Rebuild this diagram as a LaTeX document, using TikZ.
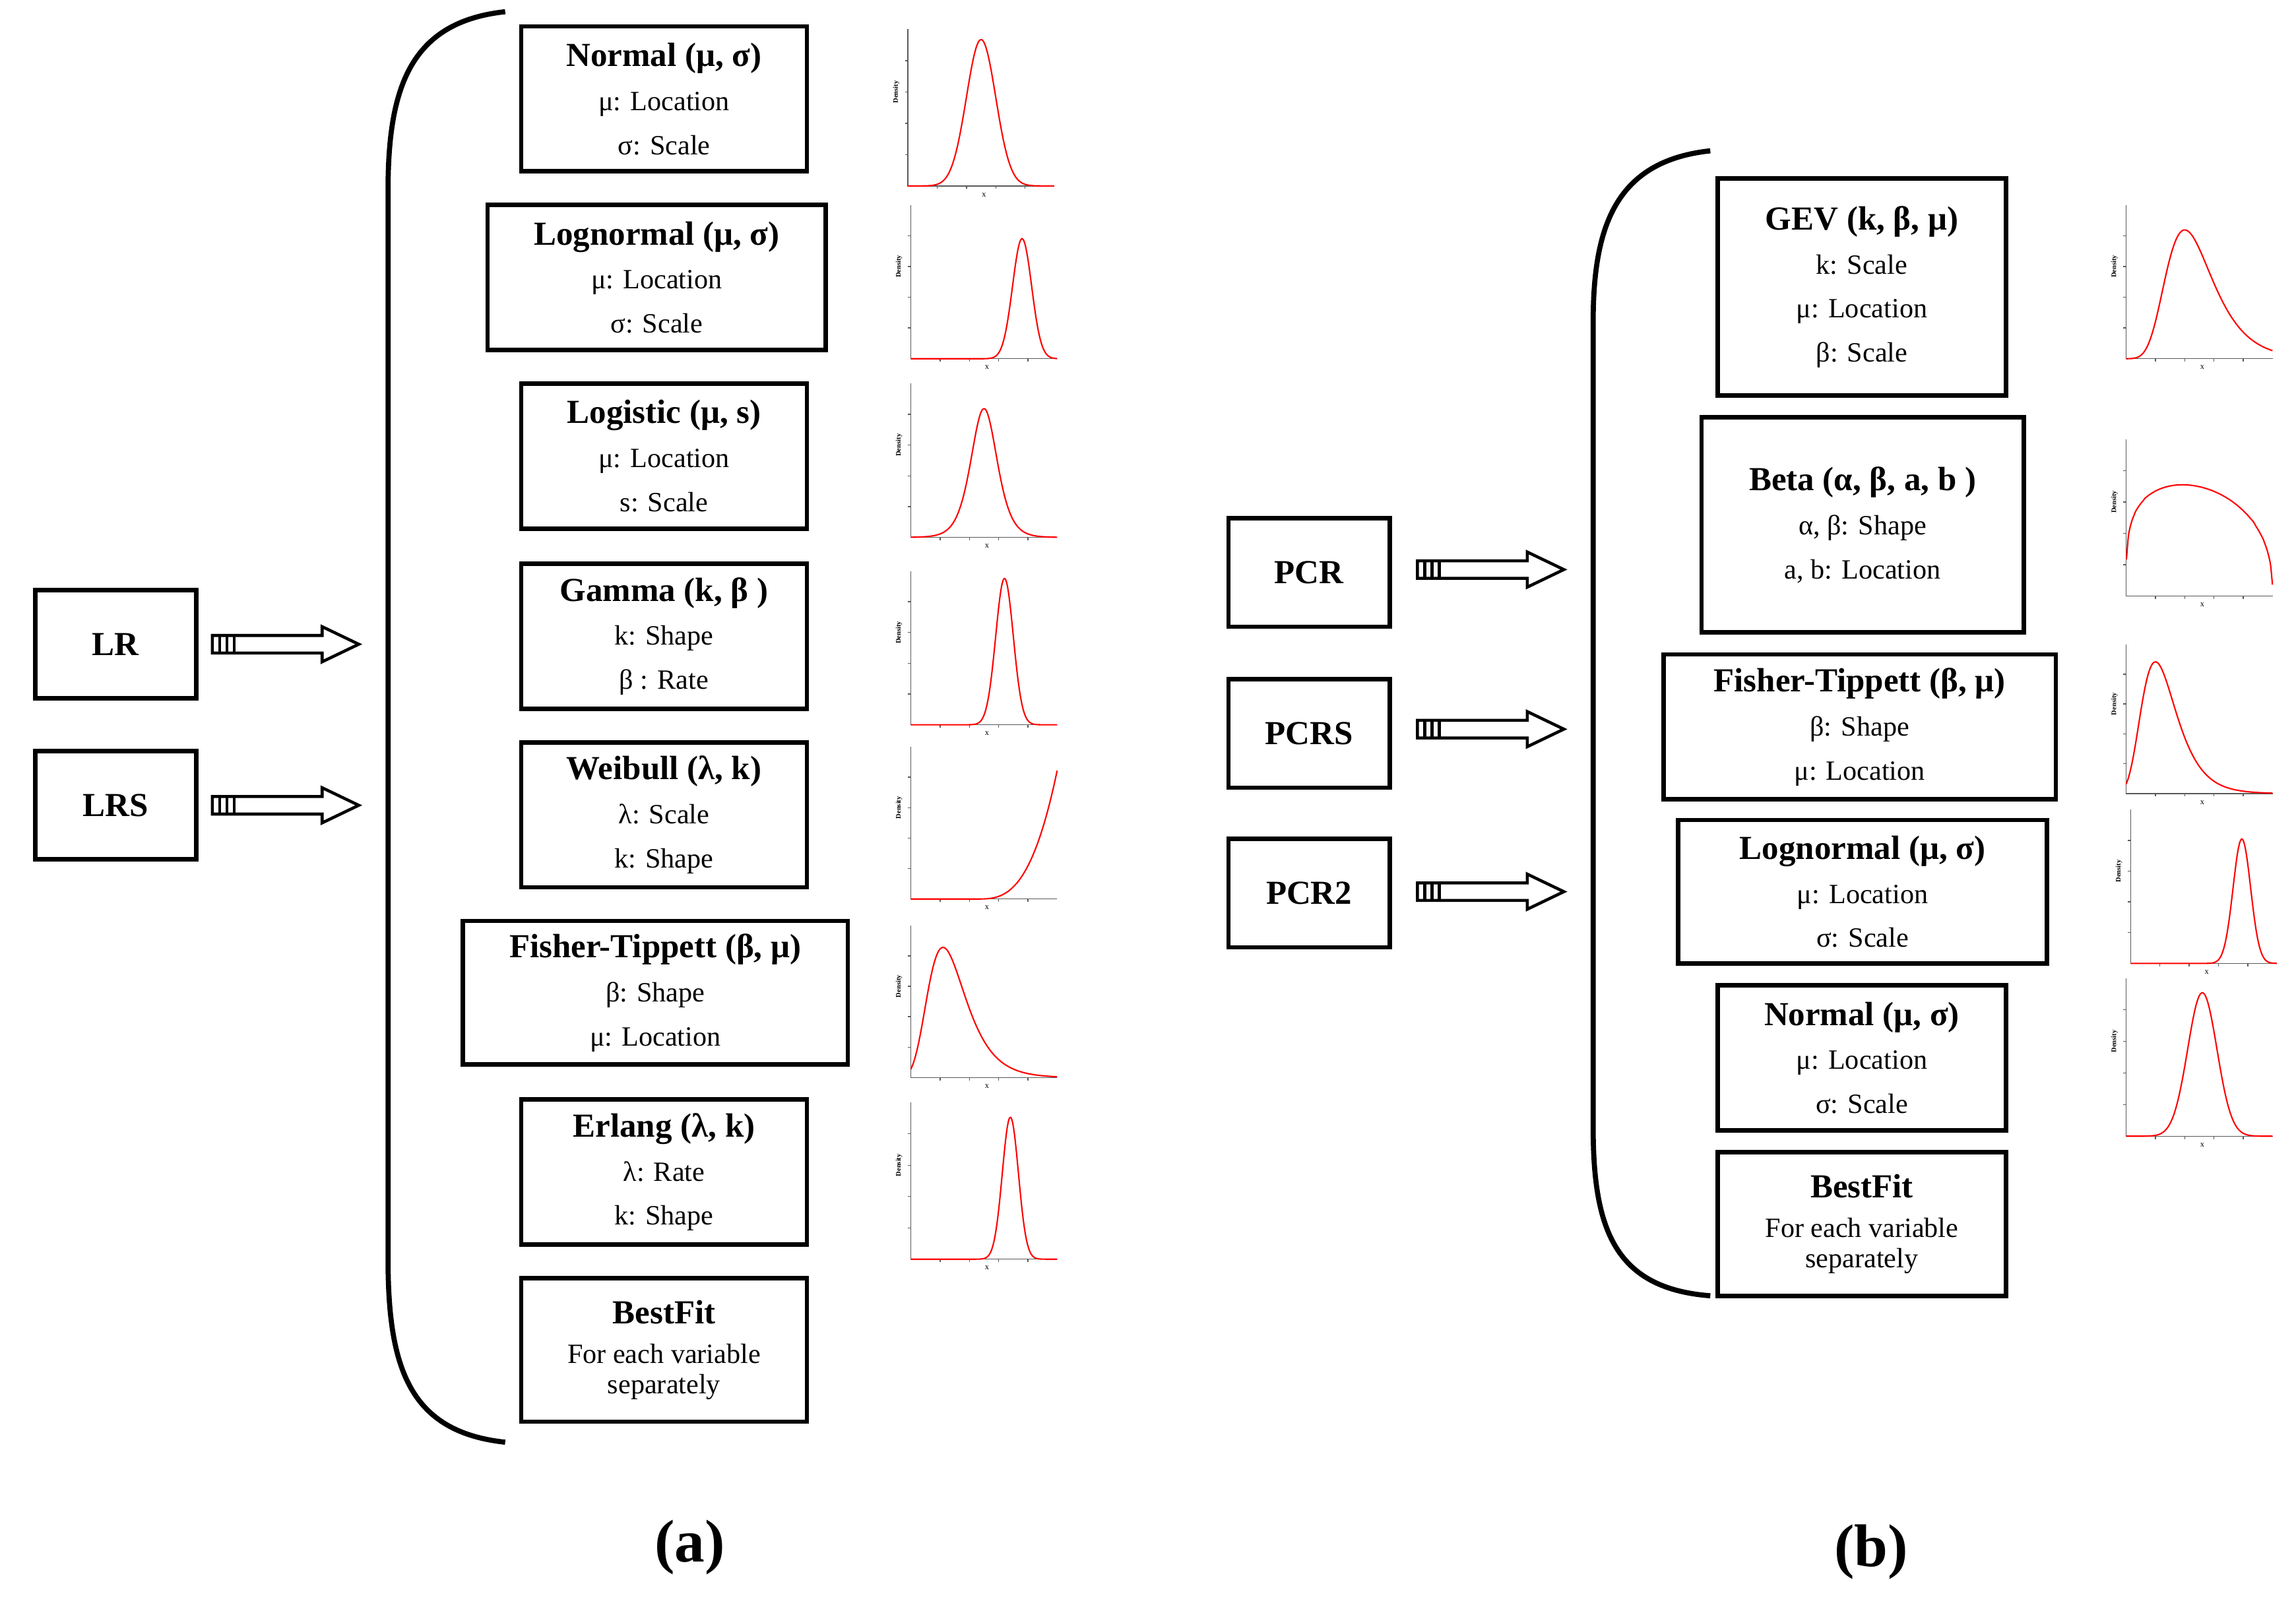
\documentclass[tikz,border=0pt]{standalone}
\usepackage{fontspec}
\setmainfont{Liberation Serif}
\begin{document}
\begin{tikzpicture}[x=0.02219cm,y=-0.02219cm,
  box/.style={draw,line width=1.9pt,align=center,inner sep=0pt,font=\fontsize{12}{19}\selectfont},
  curve/.style={red,line width=0.6pt,samples=80,smooth},
  ax/.style={line width=0.4pt,gray!70!black},
  brace/.style={line width=2.2pt}]
\useasboundingbox (0,0) rectangle (1568,1100);
\newcommand\bx[6]{\node[box,minimum width={(#3-#2)*0.02219cm},minimum height={(#5-#4)*0.02219cm}] (#1) at ({(#2+#3)/2},{(#4+#5)/2}) {#6};}
\newcommand\ttl[1]{{\fontsize{14.5}{19}\selectfont\bfseries #1}}
\newcommand\arw[2]{\begin{scope}[shift={(#1,#2)}]
 \draw[line width=1.3pt] (0,-6)--(75,-6)--(75,-12)--(100,0)--(75,12)--(75,6)--(0,6)--cycle;
 \draw[line width=1.3pt] (5,-6)--(5,6) (10,-6)--(10,6) (15,-6)--(15,6);\end{scope}}
% plot frame: #1 left x, #2 bottom y, #3 height
\newcommand\frm[3]{\draw[ax] (#1,#2-#3)--(#1,#2)--(#1+100,#2);
 \foreach \t in {0.2,0.4,0.6,0.8}{\draw[ax] (#1,#2-\t*#3)--(#1-2,#2-\t*#3); \draw[ax] (#1+\t*100,#2)--(#1+\t*100,#2+2);}
 \node[rotate=90,font=\fontsize{3}{3}\selectfont\bfseries,inner sep=0pt] at (#1-8,#2-0.6*#3) {Density};
 \node[font=\fontsize{3.5}{3.5}\selectfont,inner sep=0pt] at (#1+52,#2+6) {x};}
% ---------- left panel
\draw[brace] (345,8) .. controls (280,15) and (265,60) .. (265,130) -- (265,860) .. controls (265,935) and (280,978) .. (345,985);
\bx{n1}{356}{551}{18}{117}{\ttl{Normal (μ, σ)}\\μ: Location\\σ: Scale}
\bx{n2}{333}{564}{140}{239}{\ttl{Lognormal (μ, σ)}\\μ: Location\\σ: Scale}
\bx{n3}{356}{551}{262}{361}{\ttl{Logistic (μ, s)}\\μ: Location\\s: Scale}
\bx{n4}{356}{551}{385}{484}{\ttl{Gamma (k, β )}\\k: Shape\\β : Rate}
\bx{n5}{356}{551}{507}{606}{\ttl{Weibull (λ, k)}\\λ: Scale\\k: Shape}
\bx{n6}{316}{579}{629}{727}{\ttl{Fisher-Tippett (β, μ)}\\β: Shape\\μ: Location}
\bx{n7}{356}{551}{751}{850}{\ttl{Erlang (λ, k)}\\λ: Rate\\k: Shape}
\bx{n8}{356}{551}{873}{971}{\ttl{BestFit}\\[-2pt]For each variable\\[-6pt]separately}
\bx{lr}{24}{134}{403}{477}{\ttl{LR}}
\bx{lrs}{24}{134}{513}{587}{\ttl{LRS}}
\arw{145}{440}\arw{145}{550}
\frm{620}{127}{107}\draw[curve,domain=0:1] plot ({620+100*\x},{127-100*exp(-((\x-0.5)/0.1)^2/2)});
\frm{622}{245}{105}\draw[curve,domain=0:1] plot ({622+100*\x},{245-82*exp(-((\x-0.76)/0.065)^2/2)});
\frm{622}{367}{105}\draw[curve,domain=0:1] plot ({622+100*\x},{367-88*4/(exp((\x-0.5)/0.06)+exp(-(\x-0.5)/0.06)+2)});
\frm{622}{495}{105}\draw[curve,domain=0:1] plot ({622+100*\x},{495-100*exp(-((\x-0.64)/0.06)^2/2)});
\frm{622}{614}{104}\draw[curve,domain=0:1] plot ({622+100*\x},{614-88*(max(0,(\x-0.45)/0.55))^3});
\frm{622}{736}{104}\draw[curve,domain=0:1] plot ({622+100*\x},{736-89*2.718*exp(-(((\x-0.22)/0.13)+exp(-(\x-0.22)/0.13)))});
\frm{622}{860}{107}\draw[curve,domain=0:1] plot ({622+100*\x},{860-97*exp(-((\x-0.68)/0.055)^2/2)});
\node[font=\fontsize{26}{26}\selectfont\bfseries] (la) at (471,1057) {(a)};
% ---------- right panel
\draw[brace] (1168,103) .. controls (1103,110) and (1088,155) .. (1088,220) -- (1088,770) .. controls (1088,840) and (1103,880) .. (1168,885);
\bx{m1}{1173}{1370}{122}{270}{\ttl{GEV (k, β, μ)}\\k: Scale\\μ: Location\\β: Scale}
\bx{m2}{1162}{1382}{285}{432}{\ttl{Beta (α, β, a, b )}\\α, β: Shape\\a, b: Location}
\bx{m3}{1136}{1404}{447}{546}{\ttl{Fisher-Tippett (β, μ)}\\β: Shape\\μ: Location}
\bx{m4}{1146}{1398}{560}{658}{\ttl{Lognormal (μ, σ)}\\μ: Location\\σ: Scale}
\bx{m5}{1173}{1370}{673}{772}{\ttl{Normal (μ, σ)}\\μ: Location\\σ: Scale}
\bx{m6}{1173}{1370}{787}{885}{\ttl{BestFit}\\[-2pt]For each variable\\[-6pt]separately}
\bx{pcr}{839}{949}{354}{428}{\ttl{PCR}}
\bx{pcrs}{839}{949}{464}{538}{\ttl{PCRS}}
\bx{pcr2}{839}{949}{573}{647}{\ttl{PCR2}}
\arw{968}{389}\arw{968}{498}\arw{968}{609}
\frm{1452}{245}{105}\draw[curve,domain=0:1] plot ({1452+100*\x},{245-88*2.718*exp(-(((\x-0.4)/0.16)+exp(-(\x-0.4)/0.16)))});
\frm{1452}{407}{107}\draw[curve,domain=0.002:1] plot ({1452+100*\x},{407-117*(\x^0.25)*((1-\x)^0.4)});
\frm{1452}{542}{102}\draw[curve,domain=0:1] plot ({1452+100*\x},{542-90*2.718*exp(-(((\x-0.2)/0.12)+exp(-(\x-0.2)/0.12)))});
\frm{1455}{658}{105}\draw[curve,domain=0:1] plot ({1455+100*\x},{658-85*exp(-((\x-0.76)/0.06)^2/2)});
\frm{1452}{776}{108}\draw[curve,domain=0:1] plot ({1452+100*\x},{776-98*exp(-((\x-0.52)/0.1)^2/2)});
\node[font=\fontsize{26}{26}\selectfont\bfseries] (lb) at (1278,1060) {(b)};
\end{tikzpicture}
\end{document}
